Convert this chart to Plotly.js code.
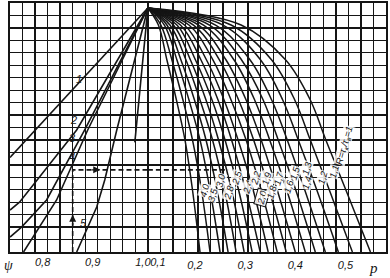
<!DOCTYPE html>
<html><head><meta charset="utf-8">
<script src="https://cdn.plot.ly/plotly-3.0.1.min.js"></script>
<style>html,body{margin:0;padding:0;background:#fff}#chart{width:390px;height:278px}</style>
</head><body><div id="chart"></div>
<script>
// ---- tick labels ----
const pTickVals = [0.2, 0.3, 0.4, 0.5];
const pTickText = ['0,2', '0,3', '0,4', '0,5'];
const pStartVals = [0.1];
const pStartText = ['0,1'];
const psiTickVals = [0.8, 0.9, 1.0];
const psiTickText = ['0,8', '0,9', '1,0'];

// ---- left family (psi side), lines 1..5 ----
const leftNames = ['1', '2', '3', '4', '5', ''];
const leftPsi = [
  [1.0, 0.725],
  [1.0, 0.858, 0.744, 0.725],
  [1.0, 0.874, 0.798, 0.748, 0.725],
  [1.0, 0.880, 0.818, 0.752],
  [1.0, 0.978, 0.938, 0.914, 0.898, 0.858],
  [1.0, 0.974]
];
const leftY = [
  [19.6, 7.6],
  [19.6, 9.8, 4.0, 3.37],
  [19.6, 9.8, 4.18, 2.0, 1.2],
  [19.6, 9.8, 4.18, 0],
  [19.6, 16.2, 9.8, 5.78, 3.61, 0],
  [19.6, 8.8]
];
const leftLabelPsi = [0.862, 0.852, 0.850, 0.848, 0.872];
const leftLabelY = [13.9, 10.6, 9.16, 7.63, 2.33];

// ---- right family (p side), curves R ----
const curveLabels = ['4,0','3,5','3,0','2,8','2,5','2,4','2,2','2,0','1,9','1,8','1,7','1,6','1,5','1,4','1,3','1,2','1,1','R=τ<sub>к</sub>/τ<sub>в</sub>=1'];
const curveLevels = [19.6, 18.23, 15.42, 12.21, 9.0, 4.98, 0];
const curveP = [
  [0.1,.121,.138,.157,.174,.189,.204],
  [0.1,.126,.148,.170,.189,.207,.224],
  [0.1,.133,.158,.182,.204,.224,.244],
  [0.1,.138,.166,.193,.216,.238,.260],
  [0.1,.144,.176,.204,.229,.253,.276],
  [0.1,.151,.185,.216,.241,.267,.292],
  [0.1,.158,.195,.228,.254,.281,.308],
  [0.1,.165,.206,.240,.267,.295,.324],
  [0.1,.173,.217,.252,.280,.310,.340],
  [0.1,.182,.230,.266,.296,.326,.358],
  [0.1,.191,.243,.281,.311,.342,.376],
  [0.1,.201,.256,.296,.326,.358,.394],
  [0.1,.211,.272,.313,.343,.377,.414],
  [0.1,.223,.287,.330,.360,.395,.434],
  [0.1,.235,.304,.347,.378,.413,.454],
  [0.1,.250,.325,.369,.400,.437,.480],
  [0.1,.266,.347,.393,.424,.462,.508],
  [0.1,.286,.375,.424,.455,.495,.544]
];
const curveLabelP = [.212,.230,.244,.262,.276,.298,.314,.328,.336,.348,.360,.380,.394,.416,.418,.448,.472,.492];
const curveLabelY = [4.98,4.58,5.78,4.74,5.94,5.22,5.94,4.34,5.94,4.82,5.94,5.30,6.35,5.54,6.75,6.02,6.43,8.6];

// ---- worked example (dashed) ----
const examplePsi = [0.85, 0.85, 1.0];
const exampleY = [0, 6.6, 6.6];
const exampleP = [0.1, 0.26];
const exampleYp = [6.6, 6.6];

const INK = '#151515';
const traces = [];
leftPsi.forEach((xs, i) => traces.push({
  type: 'scatter', mode: 'lines', x: xs, y: leftY[i], xaxis: 'x2', yaxis: 'y',
  line: {color: INK, width: 1.6}, hoverinfo: 'skip', name: leftNames[i]
}));
curveP.forEach((xs, i) => traces.push({
  type: 'scatter', mode: 'lines', x: xs, y: curveLevels, xaxis: 'x', yaxis: 'y',
  line: {color: INK, width: 1.5, shape: 'spline', smoothing: 1}, hoverinfo: 'skip'
}));
traces.push({type: 'scatter', mode: 'lines', x: examplePsi, y: exampleY, xaxis: 'x2', yaxis: 'y',
  line: {color: INK, width: 1.6, dash: '5px,3px'}, hoverinfo: 'skip'});
traces.push({type: 'scatter', mode: 'lines', x: exampleP, y: exampleYp, xaxis: 'x3', yaxis: 'y',
  line: {color: INK, width: 1.6, dash: '5px,3px'}, hoverinfo: 'skip'});

const tickFont = {family: 'Liberation Sans', size: 11, color: INK, style: 'italic'};
const labFont = {family: 'Liberation Sans', size: 9.5, color: INK, style: 'italic'};

const annotations = [];
leftNames.slice(0, 5).forEach((t, i) => annotations.push({
  xref: 'x2', yref: 'y', x: leftLabelPsi[i], y: leftLabelY[i], text: t, showarrow: false,
  font: {family: 'Liberation Sans', size: 11, color: INK, style: 'italic'}
}));
curveLabels.forEach((t, i) => annotations.push({
  xref: 'x', yref: 'y', x: curveLabelP[i], y: curveLabelY[i], text: t, showarrow: false,
  textangle: -74, font: labFont, bgcolor: 'rgba(255,255,255,0.85)', borderpad: 0,
  bordercolor: t === '2,0' ? INK : 'rgba(0,0,0,0)', borderwidth: t === '2,0' ? 1 : 0
}));
annotations.push({xref: 'x2', yref: 'y', x: 0.85, y: 3.0, ax: 0, ay: 12, text: '', showarrow: true,
  arrowhead: 2, arrowsize: 1, arrowwidth: 1.4, arrowcolor: INK});
annotations.push({xref: 'x2', yref: 'y', x: 0.905, y: 6.6, ax: -10, ay: 0, text: '', showarrow: true,
  arrowhead: 2, arrowsize: 1, arrowwidth: 1.4, arrowcolor: INK});
annotations.push({xref: 'paper', yref: 'paper', x: -0.005, y: -0.055, text: 'ψ', showarrow: false,
  xanchor: 'center', yanchor: 'middle', font: {family: 'Liberation Serif', size: 14, color: INK, style: 'italic'}});
annotations.push({xref: 'paper', yref: 'paper', x: 0.966, y: -0.065, text: 'p', showarrow: false,
  xanchor: 'center', yanchor: 'middle', font: {family: 'Liberation Serif', size: 15, color: INK, style: 'italic'}});

const gridStyle = {gridcolor: INK, gridwidth: 1.3};
const layout = {
  width: 390, height: 278,
  margin: {l: 10, r: 4, t: 3, b: 26},
  paper_bgcolor: '#fff', plot_bgcolor: '#fff',
  showlegend: false, hovermode: false,
  xaxis: {
    range: [-0.175, 0.575], tickmode: 'array', tickvals: pTickVals, ticktext: pTickText,
    showgrid: true, ...gridStyle, zeroline: false, ticks: '', tickangle: 0,
    minor: {tick0: 0, dtick: 0.025, showgrid: true, ...gridStyle, ticks: ''},
    showline: true, mirror: true, linecolor: INK, linewidth: 2,
    tickfont: tickFont, ticklabelshift: -3, ticklabelstandoff: 2
  },
  xaxis2: {
    overlaying: 'x', anchor: 'y', side: 'bottom', range: [0.725, 1.475],
    tickmode: 'array', tickvals: psiTickVals, ticktext: psiTickText,
    showgrid: false, zeroline: false, ticks: '', tickangle: 0, showline: false,
    tickfont: tickFont, ticklabelshift: -5, ticklabelstandoff: 2
  },
  xaxis3: {
    overlaying: 'x', anchor: 'y', side: 'bottom', range: [-0.175, 0.575],
    tickmode: 'array', tickvals: pStartVals, ticktext: pStartText,
    showgrid: false, zeroline: false, ticks: '', tickangle: 0, showline: false,
    tickfont: tickFont, ticklabelshift: 10, ticklabelstandoff: 2
  },
  yaxis: {
    range: [0, 20], dtick: 1, tick0: 0, showgrid: true, ...gridStyle, zeroline: false,
    showticklabels: false, ticks: '', showline: true, mirror: true, linecolor: INK, linewidth: 2
  },
  annotations: annotations
};
Plotly.newPlot('chart', traces, layout, {staticPlot: true, displayModeBar: false});
</script></body></html>
